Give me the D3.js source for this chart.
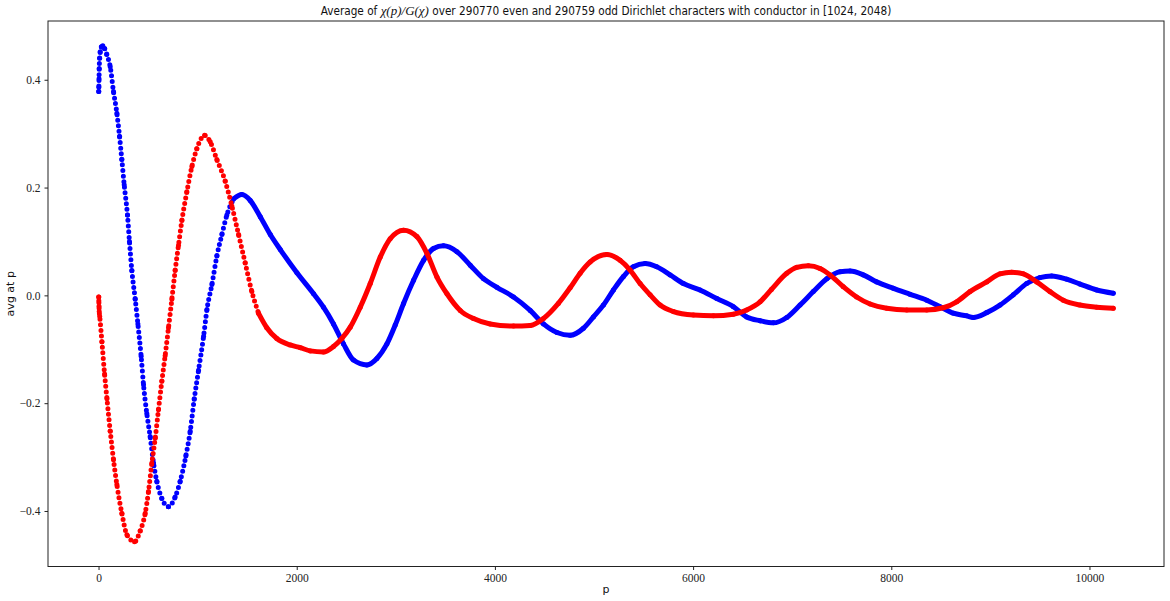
<!DOCTYPE html>
<meta charset="utf-8">
<style>
body { margin: 0; background: #fff; }
.tick text { font: 11.5px "Liberation Serif", serif; fill: #222; }
.axis path, .axis line { stroke: #222; }
.lbl { font: 11px "DejaVu Sans", sans-serif; fill: #111; }
.title { font: 11.7px "DejaVu Sans Condensed", "DejaVu Sans", sans-serif; fill: #111; }
</style>
<body>
<script src="https://cdn.jsdelivr.net/npm/d3@7"></script>
<script>

var evenP = [2, 3, 5, 7, 11, 17, 29, 43, 61, 83, 118, 151, 185, 212, 235, 259, 292, 312, 336, 370,
  397, 430, 454, 487, 521, 555, 588, 639, 706, 773, 824, 881, 925, 966, 1009, 1060, 1094, 1144, 1194, 1245,
  1295, 1362, 1446, 1531, 1632, 1733, 1834, 2002, 2170, 2270, 2371, 2472, 2573, 2708, 2809, 2910, 2994, 3078, 3179, 3280,
  3380, 3481, 3617, 3751, 3885, 4020, 4188, 4356, 4490, 4626, 4759, 4893, 4994, 5095, 5196, 5297, 5397, 5515, 5633, 5768,
  5902, 6070, 6239, 6406, 6541, 6676, 6810, 6945, 7079, 7213, 7349, 7483, 7584, 7718, 7853, 8021, 8189, 8358, 8492, 8626,
  8761, 8827, 8963, 9097, 9231, 9366, 9500, 9618, 9770, 9904, 10073, 10240];
var evenAvg = [0.378, 0.386, 0.402, 0.421, 0.440, 0.452, 0.461, 0.463, 0.458, 0.447, 0.424, 0.378, 0.338, 0.295, 0.252, 0.205, 0.149, 0.100, 0.046, -0.007,
  -0.053, -0.113, -0.166, -0.219, -0.262, -0.311, -0.345, -0.377, -0.392, -0.374, -0.345, -0.298, -0.252, -0.192, -0.139, -0.076, -0.026, 0.020, 0.073, 0.113,
  0.149, 0.179, 0.187, 0.176, 0.146, 0.113, 0.085, 0.042, 0.003, -0.022, -0.053, -0.090, -0.120, -0.129, -0.117, -0.090, -0.055, -0.015, 0.028, 0.065,
  0.087, 0.092, 0.081, 0.056, 0.031, 0.015, -0.003, -0.028, -0.053, -0.069, -0.074, -0.061, -0.040, -0.018, 0.010, 0.035, 0.053, 0.059, 0.053, 0.038,
  0.022, 0.010, -0.006, -0.021, -0.040, -0.047, -0.051, -0.041, -0.018, 0.007, 0.031, 0.044, 0.045, 0.038, 0.025, 0.013, 0.002, -0.009, -0.021, -0.033,
  -0.038, -0.041, -0.032, -0.018, 0.001, 0.022, 0.033, 0.036, 0.030, 0.021, 0.010, 0.004];

var oddP = [2, 3, 5, 7, 12, 34, 61, 85, 118, 151, 185, 235, 286, 363, 420, 471, 504, 538, 572, 605,
  639, 672, 706, 740, 773, 807, 841, 891, 942, 992, 1070, 1127, 1194, 1278, 1345, 1413, 1480, 1547, 1614, 1698,
  1799, 1934, 2036, 2137, 2270, 2371, 2456, 2540, 2641, 2742, 2843, 2943, 3078, 3213, 3314, 3415, 3516, 3650, 3784, 3952,
  4188, 4356, 4490, 4640, 4759, 4860, 4961, 5129, 5263, 5364, 5465, 5566, 5667, 5801, 6003, 6205, 6406, 6541, 6676, 6790,
  6945, 7046, 7163, 7281, 7382, 7516, 7650, 7786, 7954, 8156, 8358, 8525, 8660, 8794, 8963, 9097, 9215, 9332, 9467, 9601,
  9736, 9904, 10073, 10240];
var oddAvg = [-0.003, -0.010, -0.020, -0.030, -0.039, -0.086, -0.146, -0.192, -0.252, -0.305, -0.351, -0.404, -0.444, -0.457, -0.437, -0.404, -0.364, -0.311, -0.265, -0.212,
  -0.159, -0.112, -0.060, -0.007, 0.046, 0.093, 0.139, 0.192, 0.239, 0.272, 0.297, 0.285, 0.252, 0.212, 0.166, 0.113, 0.060, 0.007, -0.033, -0.060,
  -0.080, -0.092, -0.097, -0.103, -0.105, -0.095, -0.080, -0.059, -0.022, 0.022, 0.071, 0.105, 0.121, 0.109, 0.078, 0.034, 0.003, -0.028, -0.043, -0.053,
  -0.057, -0.056, -0.043, -0.015, 0.014, 0.041, 0.062, 0.076, 0.065, 0.047, 0.022, 0.001, -0.018, -0.030, -0.0365, -0.038, -0.035, -0.027, -0.012, 0.011,
  0.041, 0.052, 0.055, 0.050, 0.038, 0.016, -0.003, -0.016, -0.024, -0.027, -0.027, -0.023, -0.012, 0.007, 0.025, 0.040, 0.043, 0.040, 0.025, 0.007,
  -0.009, -0.018, -0.022, -0.024];

var xTicks = [0, 2000, 4000, 6000, 8000, 10000];
var yTicks = [-0.4, -0.2, 0.0, 0.2, 0.4];

var W = 1170, H = 601;
var mLeft = 48, mRight = 1164, mTop = 21, mBottom = 566.5;

var svg = d3.select("body").append("svg")
    .attr("width", W)
    .attr("height", H);

var x = d3.scaleLinear().domain([-510, 10752]).range([mLeft, mRight]);
var y = d3.scaleLinear().domain([-0.503, 0.509]).range([mBottom, mTop]);

var fmtY = function(d) { return d3.format(".1f")(d).replace("-", "\u2212"); };

// axes
svg.append("g")
    .attr("class", "axis")
    .attr("transform", "translate(0," + mBottom + ")")
    .call(d3.axisBottom(x).tickValues(xTicks).tickSize(3.5).tickPadding(4).tickFormat(d3.format("d")))
    .call(g => g.select(".domain").remove());

svg.append("g")
    .attr("class", "axis")
    .attr("transform", "translate(" + mLeft + ",0)")
    .call(d3.axisLeft(y).tickValues(yTicks).tickSize(3.5).tickPadding(4).tickFormat(fmtY))
    .call(g => g.select(".domain").remove());

// frame
svg.append("rect")
    .attr("x", mLeft).attr("y", mTop)
    .attr("width", mRight - mLeft).attr("height", mBottom - mTop)
    .attr("fill", "none").attr("stroke", "#222").attr("stroke-width", 1);

// series: the steep early part is drawn as a chain of dots (as the scatter looks there),
// the rest as a solid band of overlapping dots
var plot = svg.append("g");
var line = d3.line()
    .x(d => x(d[0]))
    .y(d => y(d[1]))
    .curve(d3.curveMonotoneX);

function drawSeries(ps, vs, color, splitP) {
  var pts = ps.map(function(p, i) { return [p, vs[i]]; });
  var early = pts.filter(d => d[0] <= splitP);
  var late = pts.filter(d => d[0] >= splitP);
  plot.append("path")
      .datum(early)
      .attr("d", line)
      .attr("fill", "none")
      .attr("stroke", color)
      .attr("stroke-width", 5)
      .attr("stroke-linecap", "round")
      .attr("stroke-dasharray", "0 5.6");
  plot.append("path")
      .datum(late)
      .attr("d", line)
      .attr("fill", "none")
      .attr("stroke", color)
      .attr("stroke-width", 5)
      .attr("stroke-linecap", "round")
      .attr("stroke-linejoin", "round");
  plot.selectAll(null)
      .data(pts)
      .enter().append("circle")
      .attr("cx", d => x(d[0]))
      .attr("cy", d => y(d[1]))
      .attr("r", 2.5)
      .attr("fill", color);
}
drawSeries(evenP, evenAvg, "#0000ff", 1362);
drawSeries(oddP, oddAvg, "#ff0000", 1614);

// labels
svg.append("text")
    .attr("class", "lbl")
    .attr("x", (mLeft + mRight) / 2)
    .attr("y", 593)
    .attr("text-anchor", "middle")
    .text("p");

svg.append("text")
    .attr("class", "lbl")
    .attr("transform", "translate(14," + ((mTop + mBottom) / 2) + ") rotate(-90)")
    .attr("text-anchor", "middle")
    .text("avg at p");

var title = svg.append("text")
    .attr("class", "title")
    .attr("x", (mLeft + mRight) / 2)
    .attr("y", 15)
    .attr("text-anchor", "middle");
title.append("tspan").text("Average of ");
title.append("tspan").attr("font-family", "Liberation Serif, serif").attr("font-style", "italic").attr("font-size", "13px").text("\u03C7(p)/G(\u03C7)");
title.append("tspan").text(" over 290770 even and 290759 odd Dirichlet characters with conductor in [1024, 2048)");

</script>
</body>
